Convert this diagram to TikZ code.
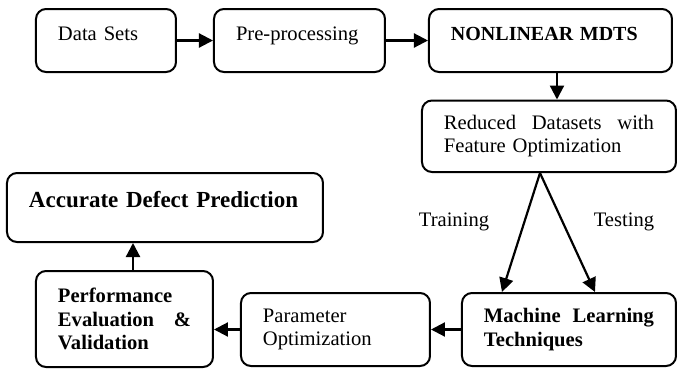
\documentclass[tikz,border=0pt]{standalone}
\usepackage{fontspec}
\setmainfont{Liberation Serif}
\usetikzlibrary{
  arrows.meta,  % Triangle tips
}
\newcommand{\boxfont}{\fontsize{10.3}{11.7}\selectfont}
\tikzset{
  semithick,
  >={Triangle[length=7pt,width=7pt]},
  my box/.style={
    draw,
    rectangle,
    rounded corners=5pt,
    line width=1pt,
    inner xsep=11pt,
    inner ysep=0pt,
    align=left,
    font=\boxfont
  },
  my bold/.style={
    font=\boxfont\bfseries
  },
  one line/.style={
    text height=7.2pt,
    text depth=7pt
  },
  my arrow/.style={
    ->,
    line width=1.1pt
  },
  my label/.style={
    font=\boxfont,
    anchor=base
  }
}

\begin{document}
\begin{tikzpicture}[x=0.5pt,y=-0.5pt]
\useasboundingbox (0,0) rectangle (677,371);
% top row
\node[my box,one line,text width=48pt,minimum height=31.5pt] (data) at (106,40.5) {Data Sets};
\node[my box,one line,text width=63.5pt,minimum height=31.5pt] (prep) at (299.5,40.5) {Pre-processing};
\node[my box,my bold,one line,text width=99.5pt,minimum height=31.5pt,font=\fontsize{10}{11.7}\selectfont\bfseries] (mdts) at (550.5,40.5) {NONLINEAR MDTS};
\node[my box,text width=105pt,minimum height=35.75pt] (red) at (549,136.25) {Reduced\hfill Datasets\hfill with\\Feature Optimization};
% bottom row
\node[my box,my bold,text width=85pt,minimum height=36.5pt] (ml) at (569,329.5) {Machine\hfill Learning\\Techniques};
\node[my box,text width=72.5pt,minimum height=36.5pt] (param) at (335.5,329.5) {Parameter\\Optimization};
\node[my box,my bold,text width=66.5pt,minimum height=48pt] (eval) at (124.5,319) {Performance\\Evaluation\hfill\&\\Validation};
\node[my box,one line,text width=136pt,minimum height=34.5pt,font=\fontsize{11.5}{13}\selectfont\bfseries] (adp) at (165,207.5) {Accurate Defect Prediction};
% labels
\node[my label] (train) at (454,226) {Training};
\node[my label] (test) at (624,226) {Testing};

\draw[my arrow] (data) -- (prep);
\draw[my arrow] (prep) -- (mdts);
\draw[my arrow] ([xshift=3.25pt]mdts.south) -- ([xshift=3.25pt]mdts.south |- red.north);
\draw[my arrow] ([xshift=-4.5pt]red.south) -- ([xshift=-33.5pt]ml.north);
\draw[my arrow] ([xshift=-4.5pt]red.south) -- ([xshift=13pt]ml.north);
\draw[my arrow] (ml) -- (param);
\draw[my arrow] (param.west) -- (param.west -| eval.east);
\draw[my arrow] ([xshift=4.25pt]eval.north) -- ([xshift=4.25pt]eval.north |- adp.south);
\end{tikzpicture}
\end{document}
